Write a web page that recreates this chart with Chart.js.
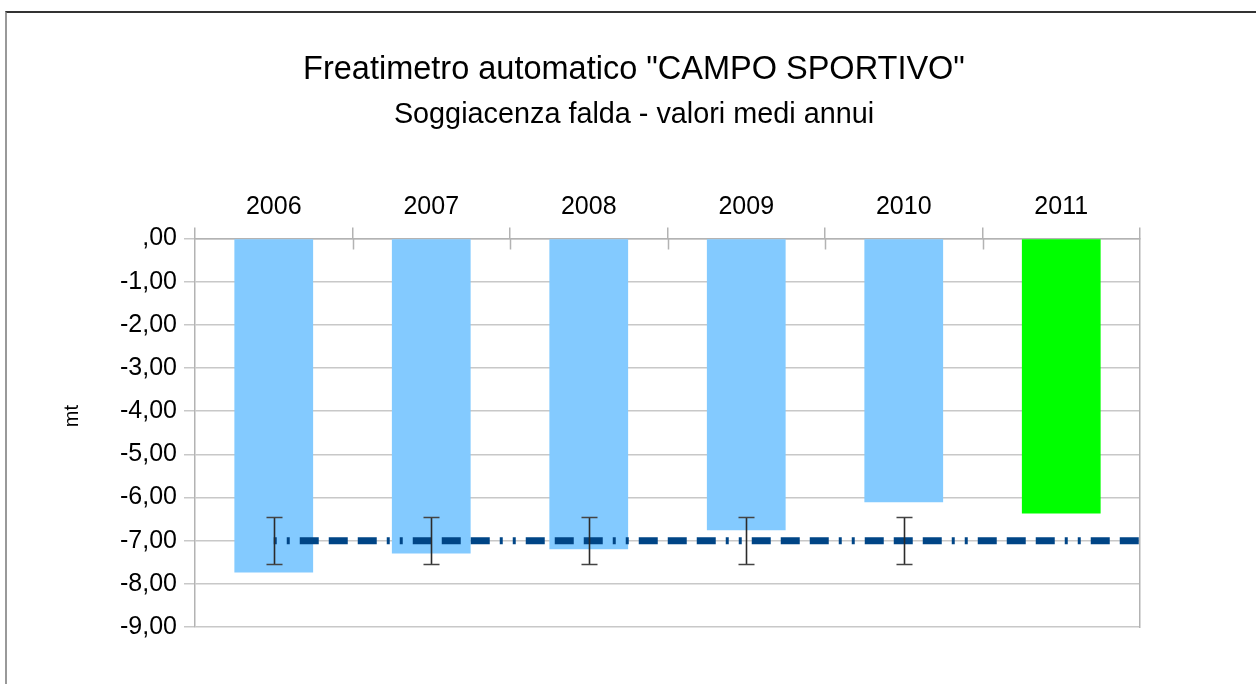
<!DOCTYPE html>
<html>
<head>
<meta charset="utf-8">
<script src="https://cdn.jsdelivr.net/npm/chart.js@4.4.1/dist/chart.umd.min.js"></script>
<style>
  html, body { margin: 0; padding: 0; background: #fff; }
  #wrap { position: relative; width: 1256px; height: 684px; }
  #frame { position: absolute; left: 5px; top: 11px; width: 1251px; height: 673px;
           border-top: 2px solid #333; border-left: 2px solid #999; box-sizing: border-box; pointer-events: none; }
  canvas { position: absolute; left: 0; top: 0; }
</style>
</head>
<body>
<div id="wrap">
  <canvas id="c" width="1256" height="684"></canvas>
  <div id="frame"></div>
</div>
<script>
// ---- data ----
const years = ['2006', '2007', '2008', '2009', '2010', '2011'];
const depthValues = [-7.74, -7.30, -7.20, -6.76, -6.11, -6.37];
const meanValues = [-7.00, -7.00, -7.00, -7.00, -7.00, -7.00];
const errorValues = [0.55, 0.55, 0.55, 0.55, 0.55, null];
const yTickValues = [0, -1, -2, -3, -4, -5, -6, -7, -8, -9];
const yTickLabels = [',00', '-1,00', '-2,00', '-3,00', '-4,00', '-5,00', '-6,00', '-7,00', '-8,00', '-9,00'];
const titleText = 'Freatimetro automatico "CAMPO SPORTIVO"';
const subtitleText = 'Soggiacenza falda - valori medi annui';
const yAxisTitle = 'mt';

const FONT = '"Liberation Sans", Arial, sans-serif';
const highlightYear = '2011';

// mean line points on a hidden linear axis aligned with the category centres,
// extended to the right edge of the plot
const meanPoints = meanValues.map((v, i) => ({ x: i, y: v }));
meanPoints.push({ x: years.length - 0.5, y: meanValues[meanValues.length - 1] });

const errorBarPlugin = {
  id: 'errorBars',
  afterDatasetsDraw(chart) {
    const ctx = chart.ctx;
    const xs = chart.scales.x, ys = chart.scales.y;
    ctx.save();
    errorValues.forEach((e, i) => {
      if (e == null) return;
      const x = Math.round(xs.getPixelForValue(i)) + 0.5;
      const yTop = Math.round(ys.getPixelForValue(meanValues[i] + e)) + 0.5;
      const yBot = Math.round(ys.getPixelForValue(meanValues[i] - e)) + 0.5;
      ctx.strokeStyle = '#2b2b2b';
      ctx.lineWidth = 1.6;
      ctx.beginPath();
      ctx.moveTo(x, yTop); ctx.lineTo(x, yBot);
      ctx.stroke();
      ctx.strokeStyle = '#444';
      ctx.beginPath();
      ctx.moveTo(x - 8, yTop); ctx.lineTo(x + 8, yTop);
      ctx.moveTo(x - 8, yBot); ctx.lineTo(x + 8, yBot);
      ctx.stroke();
    });
    ctx.restore();
  }
};

// inner half of the category separator ticks (crossing the top axis line)
const innerTickPlugin = {
  id: 'innerTicks',
  afterDraw(chart) {
    const ctx = chart.ctx;
    const xs = chart.scales.x, area = chart.chartArea;
    ctx.save();
    ctx.strokeStyle = '#b3b3b3';
    ctx.lineWidth = 1.5;
    ctx.beginPath();
    for (let i = 1; i < years.length; i++) {
      const x = Math.round((xs.getPixelForValue(i - 1) + xs.getPixelForValue(i)) / 2) + 0.5;
      ctx.moveTo(x, area.top); ctx.lineTo(x, area.top + 11);
    }
    ctx.stroke();
    ctx.restore();
  }
};

new Chart(document.getElementById('c'), {
  type: 'bar',
  data: {
    labels: years,
    datasets: [
      {
        type: 'line',
        label: 'media',
        data: meanPoints,
        xAxisID: 'x2',
        borderColor: '#004586',
        borderWidth: 7,
        borderDash: [3, 10, 3, 10, 19, 10, 19, 10, 19, 10],
        borderCapStyle: 'butt',
        pointRadius: 0,
        fill: false,
        order: 0
      },
      {
        label: 'soggiacenza',
        data: depthValues,
        backgroundColor: years.map(y => y === highlightYear ? '#00ff00' : '#83caff'),
        borderWidth: 0,
        grouped: false,
        barPercentage: 1,
        categoryPercentage: 0.5,
        order: 1
      }
    ]
  },
  options: {
    responsive: false,
    animation: false,
    devicePixelRatio: 1,
    layout: { padding: { top: 12, right: 0, bottom: 57, left: 12 } },
    plugins: {
      legend: { display: false },
      tooltip: { enabled: false },
      title: {
        display: true, text: titleText, color: '#000',
        font: { family: FONT, size: 32.5, weight: 'normal', lineHeight: 1.2 },
        padding: { top: 38.5, bottom: 0 }
      },
      subtitle: {
        display: true, text: subtitleText, color: '#000',
        font: { family: FONT, size: 28.8, weight: 'normal', lineHeight: 1.2 },
        padding: { top: 8.2, bottom: 0 }
      }
    },
    scales: {
      x: {
        position: 'top',
        offset: true,
        grid: { offset: true, drawOnChartArea: false, drawTicks: true, tickLength: 11, color: '#b3b3b3', lineWidth: 1.5 },
        border: { display: true, color: '#b3b3b3', width: 1.5 },
        ticks: { color: '#000', font: { family: FONT, size: 25 }, padding: 5 },
        afterFit(s) { s.height = 106.2; }
      },
      x2: {
        type: 'linear',
        display: false,
        offset: false,
        grid: { offset: false },
        min: -0.5,
        max: years.length - 0.5
      },
      y: {
        min: -9, max: 0,
        afterBuildTicks(s) { s.ticks = yTickValues.map(v => ({ value: v })); },
        grid: { color: '#c8c8c8', lineWidth: 1.5, tickLength: 11 },
        border: { display: true, color: '#b3b3b3', width: 1.5 },
        ticks: {
          color: '#000', font: { family: FONT, size: 25 }, padding: 7,
          callback: (v) => { const i = yTickValues.indexOf(v); return i >= 0 ? yTickLabels[i] : ''; }
        },
        title: { display: true, text: '\u00a0\u00a0\u00a0\u00a0\u00a0\u00a0' + yAxisTitle, color: '#000', font: { family: FONT, size: 20 }, padding: { top: 48, bottom: 0 } },
        afterFit(s) { s.width = 183; }
      },
      yr: {
        position: 'right',
        min: -9, max: 0,
        grid: { drawOnChartArea: false, drawTicks: false },
        border: { display: true, color: '#b3b3b3', width: 1.5 },
        ticks: { display: false },
        afterFit(s) { s.width = 116; }
      }
    }
  },
  plugins: [errorBarPlugin, innerTickPlugin]
});
</script>
</body>
</html>
